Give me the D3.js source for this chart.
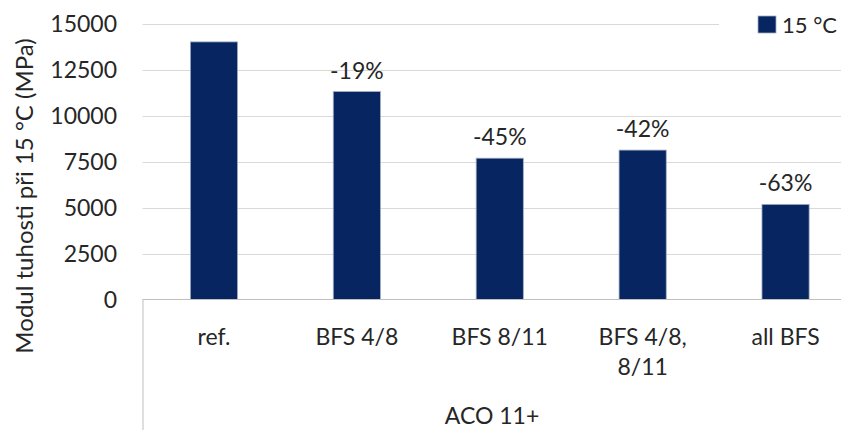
<!DOCTYPE html>
<html>
<head>
<meta charset="utf-8">
<script src="https://cdn.jsdelivr.net/npm/d3@7"></script>
<style>
  body { margin: 0; background: #fff; }
  svg text { font-family: Lato, "Liberation Sans Narrow", sans-serif; fill: #262626; }
</style>
</head>
<body>
<div id="chart"></div>
<script>
var categories = ['ref.', 'BFS 4/8', 'BFS 8/11', 'BFS 4/8, 8/11', 'all BFS'];
var values = [14000, 11300, 7680, 8120, 5170];
var changeLabels = ['', '-19%', '-45%', '-42%', '-63%'];
var yTicks = [0, 2500, 5000, 7500, 10000, 12500, 15000];
var groupLabel = 'ACO 11+';
var seriesName = '15 °C';
var yTitle = 'Modul tuhosti při 15 °C (MPa)';

var W = 841, H = 430;
var plotLeft = 142.5, plotRight = 857, plotTop = 23.5, plotBottom = 299.5;
var barColor = '#062561';

var svg = d3.select('#chart').append('svg')
  .attr('width', W).attr('height', H)
  .attr('viewBox', '0 0 ' + W + ' ' + H);

var x = d3.scaleBand().domain(categories).range([plotLeft, plotRight]).paddingInner(0.67).paddingOuter(0.335);
var y = d3.scaleLinear().domain([0, 15000]).range([plotBottom, plotTop]);

// gridlines (top one is cut short by the legend)
svg.append('g').selectAll('line').data(yTicks.filter(function(t) { return t > 0; }))
  .enter().append('line')
  .attr('x1', plotLeft).attr('x2', function(t) { return t === 15000 ? 719 : W; })
  .attr('y1', function(t) { return Math.round(y(t)) + 0.5; })
  .attr('y2', function(t) { return Math.round(y(t)) + 0.5; })
  .attr('stroke', '#d9d9d9').attr('stroke-width', 1);

// y axis labels
var yAxis = d3.axisLeft(y).tickValues(yTicks).tickSize(0).tickPadding(0).tickFormat(d3.format('d'));
var gy = svg.append('g').attr('transform', 'translate(117,0)').call(yAxis);
gy.select('.domain').remove();
gy.selectAll('text').style('font-size', '23px').style('font-family', 'Lato, sans-serif')
  .attr('fill', '#262626').attr('dy', '0.36em');

// bars
svg.append('g').selectAll('rect').data(values).enter().append('rect')
  .attr('x', function(d, i) { return x(categories[i]); })
  .attr('y', function(d) { return y(d); })
  .attr('width', x.bandwidth())
  .attr('height', function(d) { return y(0) - y(d); })
  .attr('fill', barColor)
  .attr('stroke', '#a3adc2').attr('stroke-width', 0.8);

// data labels
svg.append('g').selectAll('text').data(values).enter().append('text')
  .attr('x', function(d, i) { return x(categories[i]) + x.bandwidth() / 2; })
  .attr('y', function(d) { return y(d) - 13; })
  .attr('text-anchor', 'middle')
  .style('font-size', '23px')
  .text(function(d, i) { return changeLabels[i]; });

// category axis
svg.append('line').attr('x1', plotLeft).attr('x2', W).attr('y1', 299.5).attr('y2', 299.5)
  .attr('stroke', '#bfbfbf');
svg.append('line').attr('x1', plotLeft + 0.5).attr('x2', plotLeft + 0.5).attr('y1', 299.5).attr('y2', H)
  .attr('stroke', '#bfbfbf');

var catG = svg.append('g');
categories.forEach(function(c, i) {
  var parts = c.split(', ');
  var lines = parts.length > 1 ? [parts[0] + ',', parts[1]] : [c];
  var cx = x(c) + x.bandwidth() / 2;
  var t = catG.append('text')
    .attr('x', cx).attr('y', 345)
    .attr('text-anchor', 'middle').style('font-size', '23px');
  lines.forEach(function(l, j) {
    t.append('tspan').attr('x', cx).attr('dy', j === 0 ? 0 : 30).text(l);
  });
});

svg.append('text').attr('x', 492).attr('y', 424).attr('text-anchor', 'middle')
  .style('font-size', '23px').text(groupLabel);

// y title
svg.append('text').attr('transform', 'translate(33,196) rotate(-90)')
  .attr('text-anchor', 'middle').style('font-size', '24px').text(yTitle);

// legend
svg.append('rect').attr('x', 758).attr('y', 16).attr('width', 18).attr('height', 17)
  .attr('fill', barColor).attr('stroke', '#a3adc2').attr('stroke-width', 0.8);
svg.append('text').attr('x', 782).attr('y', 33).style('font-size', '22px').text(seriesName);
</script>
</body>
</html>
